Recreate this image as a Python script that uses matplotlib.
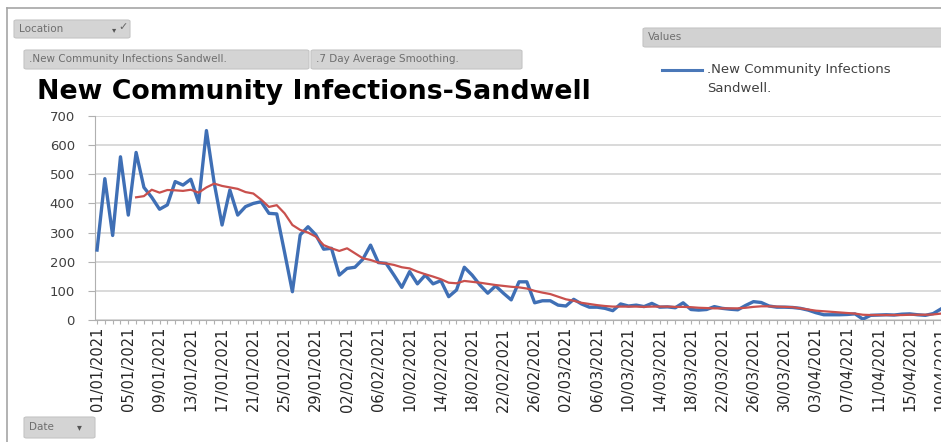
import numpy as np
import pandas as pd
import matplotlib
matplotlib.use('Agg')
import matplotlib.pyplot as plt
from matplotlib.patches import FancyBboxPatch
from matplotlib.lines import Line2D

# daily new community infections, Sandwell, from 01/01/2021
datas = pd.date_range('2021-01-01', periods=109, freq='D')
casos = [240, 485, 290, 560, 360, 575, 455, 421, 380, 395,
         475, 463, 483, 403, 650, 469, 326, 446, 360, 389,
         400, 406, 366, 364, 232, 97, 292, 320, 292, 243,
         246, 154, 177, 181, 208, 257, 197, 194, 154, 112,
         166, 124, 154, 124, 135, 80, 103, 181, 154, 120,
         92, 117, 92, 69, 131, 131, 59, 66, 66, 51,
         48, 71, 55, 44, 44, 40, 32, 55, 48, 51,
         46, 57, 44, 45, 42, 59, 36, 34, 36, 46,
         40, 37, 35, 50, 63, 60, 48, 44, 44, 43,
         40, 34, 25, 18, 18, 18, 19, 21, 3, 16,
         17, 18, 17, 20, 21, 18, 16, 22, 38]

# 7 day average smoothing (starts on day 5)
inicio_media = 5
media7 = [421, 425, 447, 437, 446, 445, 443, 447, 437, 455,
          468, 460, 455, 450, 439, 434, 413, 388, 394, 366,
          326, 309, 300, 286, 257, 246, 237, 246, 229, 212,
          206, 197, 194, 189, 181, 177, 166, 157, 149, 140,
          128, 126, 134, 131, 128, 124, 120, 117, 114, 112,
          108, 100, 94, 89, 80, 71, 66, 59, 55, 51,
          48, 46, 46, 46, 46, 45, 46, 46, 46, 45,
          45, 44, 42, 41, 40, 40, 40, 40, 42, 45,
          47, 47, 46, 45, 44, 40, 36, 32, 30, 28,
          26, 24, 22, 18, 17, 17, 17, 17, 17, 18,
          18, 18, 19, 22]

y_ticks = [0, 100, 200, 300, 400, 500, 600, 700]

W, H = 941, 442
fig = plt.figure(figsize=(W / 100, H / 100), dpi=100)
fig.patch.set_facecolor('white')


def fx(x):
    return x / W


def fy(y):
    return 1 - y / H


# moldura externa
fig.add_artist(Line2D([fx(7), 1], [fy(8), fy(8)], color='#a6a6a6', lw=1.2))
fig.add_artist(Line2D([fx(7), fx(7)], [fy(8), 0], color='#a6a6a6', lw=1.2))


def botao(x0, y0, x1, y1, texto, fs=7.5, cor='#d4d4d4'):
    b = FancyBboxPatch((fx(x0), fy(y1)), fx(x1) - fx(x0), fy(y0) - fy(y1),
                       boxstyle='round,pad=0,rounding_size=0.003',
                       transform=fig.transFigure, facecolor=cor,
                       edgecolor='#c4c4c4', lw=0.8)
    fig.add_artist(b)
    fig.text(fx(x0 + 5), fy((y0 + y1) / 2), texto, fontsize=fs,
             color='#6e6e6e', va='center', ha='left')


botao(14, 20, 130, 38, 'Location')
fig.text(fx(112), fy(30), '\u25be', fontsize=6, color='#555555', va='center')
fig.text(fx(118), fy(27), '\u2713', fontsize=8, color='#666666', va='center')
botao(24, 50, 309, 69, '.New Community Infections Sandwell.')
botao(311, 50, 522, 69, '.7 Day Average Smoothing.')
botao(643, 28, 950, 47, 'Values', cor='#d2d2d2')
botao(24, 417, 95, 438, 'Date')
fig.text(fx(77), fy(427), '\u25be', fontsize=7, color='#555555', va='center')

fig.text(fx(37), fy(92), 'New Community Infections-Sandwell', fontsize=19.3,
         fontweight='bold', color='black', va='center', ha='left')

# legenda
fig.add_artist(Line2D([fx(662), fx(702)], [fy(70), fy(70)], color='#4a78b8', lw=2.2))
fig.text(fx(707), fy(70), '.New Community Infections', fontsize=9.5,
         color='#404040', va='center')
fig.text(fx(707), fy(88), 'Sandwell.', fontsize=9.5, color='#404040', va='center')

ax = fig.add_axes([fx(95), fy(320), 1 - fx(95), fy(116) - fy(320)])
dias = np.arange(len(casos))
ax.plot(dias, casos, color='#3f6fb5', lw=2.4, solid_joinstyle='round', zorder=3)
ax.plot(dias[inicio_media:], media7, color='#c9504d', lw=1.6, zorder=4)

ax.set_xlim(-0.26, 107.9)
ax.set_ylim(0, 700)
ax.set_yticks(y_ticks)
ax.set_yticklabels([str(v) for v in y_ticks], fontsize=9.5, color='#404040')
ax.yaxis.grid(True, color='#d9d9d9', lw=1.4)
ax.set_axisbelow(True)

ax.set_xticks(dias)
rotulos = [d.strftime('%d/%m/%Y') if i % 4 == 0 else '' for i, d in enumerate(datas)]
ax.set_xticklabels(rotulos, rotation=90, fontsize=10.5, color='#262626')
ax.tick_params(axis='x', length=3, color='#b0b0b0', pad=2)
ax.tick_params(axis='y', length=5, color='#b0b0b0', pad=9.5)

for lado in ['top', 'right']:
    ax.spines[lado].set_visible(False)
ax.spines['left'].set_color('#b0b0b0')
ax.spines['bottom'].set_color('#b0b0b0')
ax.set_facecolor('none')

plt.savefig('out.png', dpi=100)
